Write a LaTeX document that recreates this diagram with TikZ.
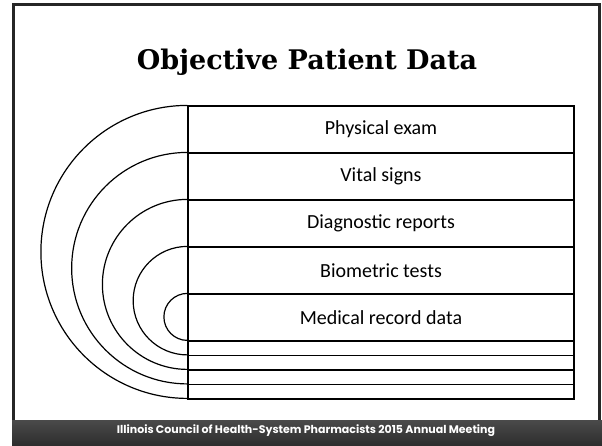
\documentclass[tikz,border=0pt]{standalone}
\usepackage{fontspec}
\setmainfont{Carlito}
\newfontfamily\titlefont{DejaVu Serif}
\newfontfamily\footfont{Poppins}
\definecolor{bandtop}{HTML}{4A4A4A}
\definecolor{bandbottom}{HTML}{2E2E2E}

\tikzset{
  fila/.style={draw, line width=1.2pt, minimum width=386pt, minimum height=47pt,
    inner sep=0pt, font=\fontsize{20}{24}\selectfont},
  fino/.style={draw, line width=1.2pt, minimum width=386pt, minimum height=14.5pt,
    inner sep=0pt},
}

\begin{document}
\begin{tikzpicture}[x=1pt,y=1pt]
    \useasboundingbox (0,0) rectangle (602,-445);
    \fill[white] (0,0) rectangle (602,-445);

    % marco de la diapositiva
    \draw[line width=3pt, black!85] (13.5,-421) -- (13.5,-4.5) -- (599.5,-4.5) -- (599.5,-421);

    % banda inferior
    \shade[top color=bandtop, bottom color=bandbottom] (12,-420) rectangle (602,-445);
    \node[text=white, font=\footfont\bfseries\fontsize{11}{13}\selectfont] (pie) at (306,-431)
        {Illinois Council of Health-System Pharmacists 2015 Annual Meeting};

    % titulo
    \node[font=\titlefont\bfseries\fontsize{27}{32}\selectfont] (titulo) at (307,-62)
        {Objective Patient Data};

    % filas con texto
    \foreach \i/\val in {
        0/Physical exam,
        1/Vital signs,
        2/Diagnostic reports,
        3/Biometric tests,
        4/Medical record data
        } {
        \node[fila] (fila\i) at (381, -129.5-47*\i) {\val};
    }

    % filas delgadas
    \foreach \i in {0,...,3} {
        \node[fino] (fino\i) at (381, -348.25-14.5*\i) {};
    }

    % semicirculos
    \foreach \i in {0,...,4} {
        \draw[line width=1.2pt] (fila\i.north west) arc[start angle=90, end angle=270, radius={(293-61.5*\i)/2}];
    }
\end{tikzpicture}
\end{document}
